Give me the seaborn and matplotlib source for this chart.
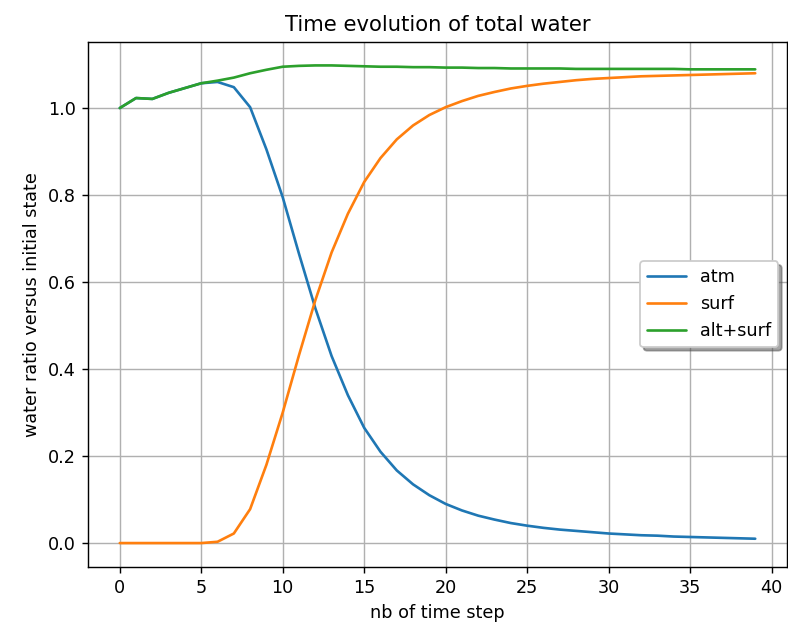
import matplotlib
matplotlib.use("Agg")
import matplotlib.pyplot as plt
import seaborn as sns
import pandas as pd

steps = list(range(40))
atm = [1.000, 1.023, 1.021, 1.035, 1.046, 1.057, 1.060, 1.048, 1.002, 0.905,
       0.795, 0.665, 0.540, 0.430, 0.340, 0.265, 0.210, 0.167, 0.135, 0.110,
       0.090, 0.075, 0.063, 0.054, 0.046, 0.040, 0.035, 0.031, 0.028, 0.025,
       0.022, 0.020, 0.018, 0.017, 0.015, 0.014, 0.013, 0.012, 0.011, 0.010]
surf = [0.0, 0.0, 0.0, 0.0, 0.0, 0.0, 0.003, 0.022, 0.078, 0.180,
        0.300, 0.432, 0.558, 0.668, 0.757, 0.830, 0.885, 0.928, 0.960, 0.984,
        1.002, 1.016, 1.028, 1.037, 1.045, 1.051, 1.056, 1.060, 1.064, 1.067,
        1.069, 1.071, 1.073, 1.074, 1.075, 1.076, 1.077, 1.078, 1.079, 1.080]
total = [1.000, 1.023, 1.021, 1.035, 1.046, 1.057, 1.063, 1.070, 1.080, 1.088,
         1.095, 1.097, 1.098, 1.098, 1.097, 1.096, 1.095, 1.095, 1.094, 1.094,
         1.093, 1.093, 1.092, 1.092, 1.091, 1.091, 1.091, 1.091, 1.090, 1.090,
         1.090, 1.090, 1.090, 1.090, 1.090, 1.089, 1.089, 1.089, 1.089, 1.089]
series_names = ["atm", "surf", "alt+surf"]

df = pd.concat([
    pd.DataFrame({"step": steps, "value": atm, "series": series_names[0]}),
    pd.DataFrame({"step": steps, "value": surf, "series": series_names[1]}),
    pd.DataFrame({"step": steps, "value": total, "series": series_names[2]}),
])

sns.set_style("ticks")
plt.rcParams["font.family"] = ["DejaVu Sans"]
plt.rcParams["text.color"] = "black"
plt.rcParams["axes.labelcolor"] = "black"

dpi = 127
fig = plt.figure(figsize=(788 / dpi, 627 / dpi), dpi=dpi)
W, H = 788, 627
ax = fig.add_axes([88 / W, 1 - 567 / H, (787 - 88) / W, (567 - 41.5) / H])

palette = {"atm": "#1f77b4", "surf": "#ff7f0e", "alt+surf": "#2ca02c"}
sns.lineplot(data=df, x="step", y="value", hue="series", palette=palette,
             linewidth=1.5, ax=ax)

ax.set_xlim(-1.95, 40.95)
ax.set_ylim(-0.055, 1.153)
ax.set_xticks([0, 5, 10, 15, 20, 25, 30, 35, 40])
ax.set_yticks([0.0, 0.2, 0.4, 0.6, 0.8, 1.0])
ax.grid(True, color="#b0b0b0", linewidth=0.8)
for s in ax.spines.values():
    s.set_visible(True)
    s.set_color("black")
    s.set_linewidth(0.8)
ax.tick_params(labelsize=10, colors="black", length=3.5, width=0.8)
ax.set_xlabel("nb of time step", fontsize=10, color="black")
ax.set_ylabel("water ratio versus initial state", fontsize=10, color="black")
ax.set_title("Time evolution of total water", fontsize=12, color="black")

leg = ax.legend(loc="center right", shadow=True, fancybox=True, fontsize=10,
                framealpha=1, handlelength=2.2)
leg.set_title(None)
leg.get_frame().set_edgecolor("#cccccc")
for t in leg.get_texts():
    t.set_color("black")

fig.savefig("out.png", dpi=dpi)
